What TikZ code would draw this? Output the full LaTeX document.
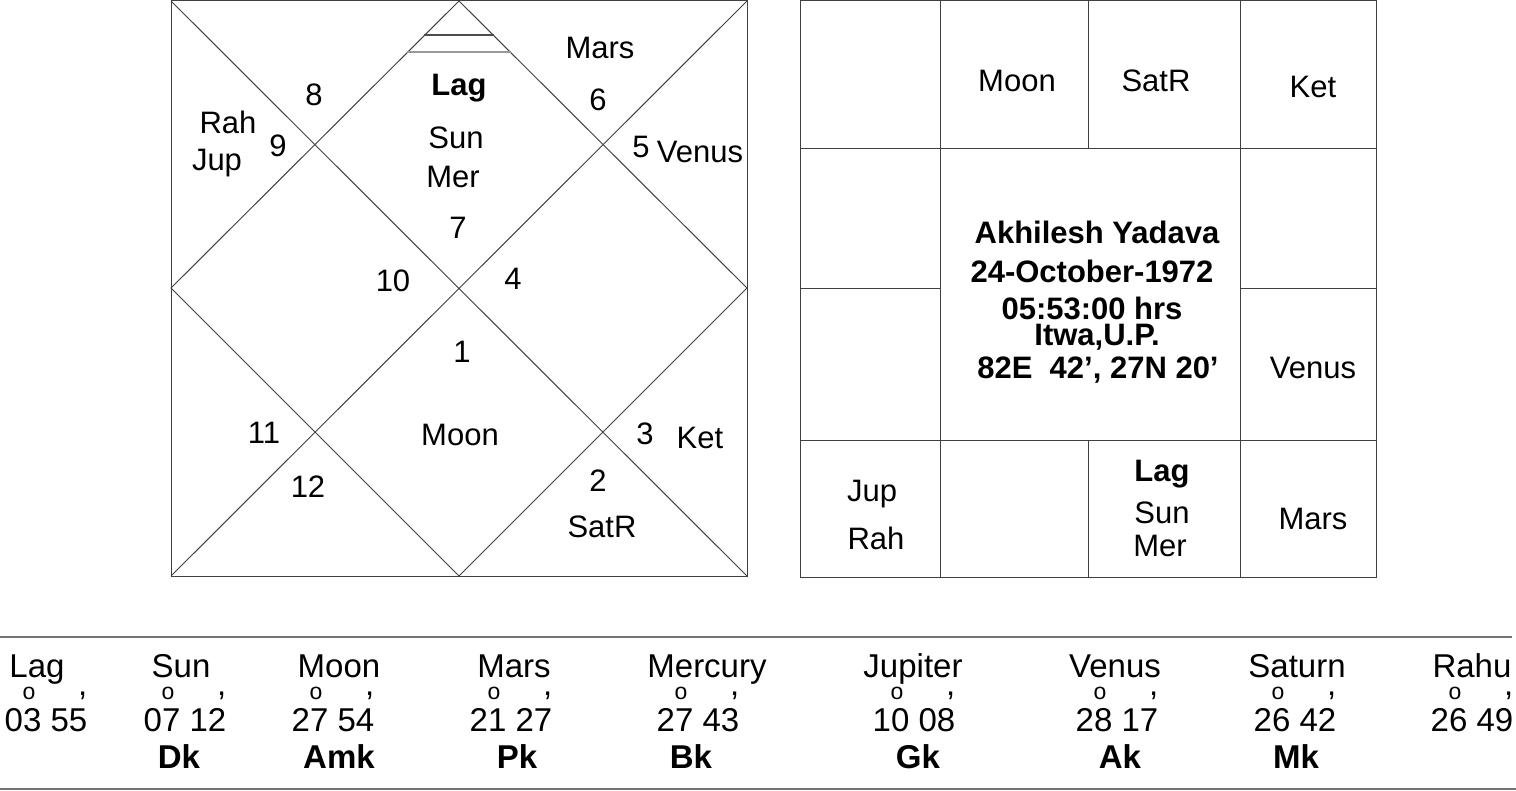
\documentclass[tikz,border=0pt]{standalone}
\usepackage{fontspec}
\setmainfont{Liberation Sans}
\newcommand{\degmin}[2]{#1\makebox[0pt][r]{\raisebox{16pt}{\fontsize{11.5}{12}\selectfont o}\hspace{3pt}}\ #2\makebox[0pt][r]{\raisebox{18pt}{,}}}
\begin{document}
\begin{tikzpicture}[x=0.5pt,y=-0.5pt,line width=0.5pt,
  every node/.style={inner sep=0pt,text height=0.72em,text depth=0pt,yshift=-2pt,font=\fontsize{15.5}{18}\selectfont},
  hdr/.style={font=\fontsize{15.5}{18}\selectfont\bfseries},
  tbl/.style={font=\fontsize{16.5}{18}\selectfont}]
 \useasboundingbox (0,0) rectangle (1516,791);
 \draw[black!75] (171,1) rectangle (747,576);
 \draw[black!75] (171,1) -- (747,576) (747,1) -- (171,576);
 \draw[black!75] (459,1) -- (747,288) -- (459,576) -- (171,288) -- cycle;
 \draw[black!70, line width=1pt] (424,35) -- (494,35);
 \draw[black!40, line width=1.2pt] (407,52) -- (511,52);
 \node[hdr] (nlag) at (459,84) {Lag};
 \node (nsun) at (456,137) {Sun};
 \node (nmer) at (453,176) {Mer};
 \node (h7) at (458,227) {7};
 \node (h10) at (393,280) {10};
 \node (h4) at (513,278) {4};
 \node (h1) at (462,351) {1};
 \node (nmoon) at (460,434) {Moon};
 \node (h8) at (314,94) {8};
 \node (nrah) at (228,122) {Rah};
 \node (njup) at (217,159) {Jup};
 \node (h9) at (278,145) {9};
 \node (nmars) at (600,47) {Mars};
 \node (h6) at (598,99) {6};
 \node (h5) at (641,146) {5};
 \node (nvenus) at (700,151) {Venus};
 \node (h11) at (264,432) {11};
 \node (h12) at (308,486) {12};
 \node (h3) at (645,433) {3};
 \node (nket) at (700,437) {Ket};
 \node (h2) at (598,480) {2};
 \node (nsat) at (602,526) {SatR};
 \draw[black!75] (800,1) rectangle (1376,577);
 \draw[black!75] (800,149) -- (1376,149) (800,440) -- (1376,440);
 \draw[black!75] (800,289) -- (940,289) (1240,289) -- (1376,289);
 \draw[black!75] (940,1) -- (940,577) (1240,1) -- (1240,577);
 \draw[black!75] (1088,1) -- (1088,149) (1088,440) -- (1088,577);
 \node (smoon) at (1017,80) {Moon};
 \node (ssat) at (1156,80) {SatR};
 \node (sket) at (1313,86) {Ket};
 \node (svenus) at (1313,367) {Venus};
 \node (sjup) at (872,490) {Jup};
 \node (srah) at (876,538) {Rah};
 \node[hdr] (slag) at (1162,470) {Lag};
 \node (ssun) at (1162,512) {Sun};
 \node (smer) at (1160,545) {Mer};
 \node (smars) at (1313,518) {Mars};
 \node[hdr] (cname) at (1097,232) {Akhilesh Yadava};
 \node[hdr] (cdate) at (1092,271) {24-October-1972};
 \node[hdr] (ctime) at (1092,308) {05:53:00 hrs};
 \node[hdr] (cplace) at (1097,334) {Itwa,U.P.};
 \node[hdr] (clong) at (1098,367) {82E\ \ 42’, 27N 20’};
 \draw[black!55, line width=1pt] (0,637) -- (1512,637);
 \draw[black!55, line width=1pt] (0,789) -- (1516,789);
 \foreach \pl/\xa/\xb/\xc/\dg/\mn/\kk [count=\i] in
   {Lag/37/46/46/03/55/, Sun/181/185/179/07/12/Dk, Moon/339/333/339/27/54/Amk,
    Mars/514/511/517/21/27/Pk, Mercury/707/698/691/27/43/Bk,
    Jupiter/913/914/918/10/08/Gk, Venus/1115/1117/1120/28/17/Ak,
    Saturn/1297/1295/1296/26/42/Mk, Rahu/1472/1472/1472/26/49/}
 {
  \node[tbl] (pl\i) at (\xa,666) {\pl};
  \node[tbl] (dm\i) at (\xb,720) {\degmin{\dg}{\mn}};
  \node[tbl,font=\fontsize{16.5}{18}\selectfont\bfseries] (kk\i) at (\xc,757) {\kk};
 }
\end{tikzpicture}
\end{document}
